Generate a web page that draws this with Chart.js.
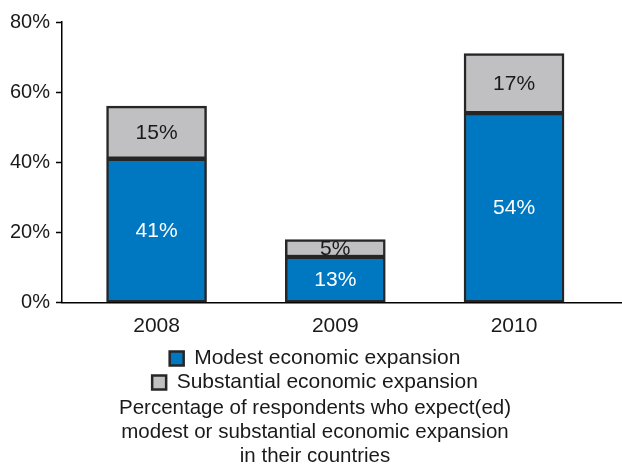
<!DOCTYPE html>
<html>
<head>
<meta charset="utf-8">
<script src="https://cdn.jsdelivr.net/npm/chart.js@4.4.1/dist/chart.umd.min.js"></script>
<style>
  html, body { margin: 0; padding: 0; background: #fff; }
  #wrap { width: 622px; height: 466px; }
</style>
</head>
<body>
<div id="wrap"><canvas id="myChart" width="622" height="466"></canvas></div>
<script>
// survey results, % of respondents
const years = [2008, 2009, 2010];
const modest = [41, 13, 54];
const substantial = [15, 5, 17];
const yTicks = [0, 20, 40, 60, 80];
const titleLines = [
    'Percentage of respondents who expect(ed)',
    'modest or substantial economic expansion',
    'in their countries'
];

const FONT = "'Liberation Sans', Arial, sans-serif";
const INK = '#1a1a1a';

// writes the % inside each bar segment
const barLabels = {
    id: 'barLabels',
    afterDatasetsDraw(chart) {
        const ctx = chart.ctx;
        ctx.save();
        ctx.font = '21px ' + FONT;
        ctx.textAlign = 'center';
        ctx.textBaseline = 'middle';
        chart.data.datasets.forEach((ds, i) => {
            const meta = chart.getDatasetMeta(i);
            meta.data.forEach((bar, j) => {
                ctx.fillStyle = ds.labelColor;
                ctx.fillText(ds.data[j] + '%', bar.x, (bar.y + bar.base) / 2 + 1);
            });
        });
        ctx.restore();
    }
};

var ctx = document.getElementById('myChart').getContext('2d');
var chart = new Chart(ctx, {
    type: 'bar',
    data: {
        labels: years,
        datasets: [{
            label: 'Modest economic expansion',
            data: modest,
            backgroundColor: '#0078c1',
            borderColor: '#262626',
            borderWidth: 2.5,
            borderSkipped: false,
            barThickness: 100,
            labelColor: '#ffffff'
        }, {
            label: 'Substantial economic expansion',
            data: substantial,
            backgroundColor: '#c0c0c2',
            borderColor: '#262626',
            borderWidth: 2.5,
            borderSkipped: false,
            barThickness: 100,
            labelColor: INK
        }]
    },
    options: {
        responsive: false,
        animation: false,
        layout: { padding: { left: 8, right: 0, top: 22, bottom: -2 } },
        scales: {
            x: {
                type: 'linear',
                stacked: true,
                offset: false,
                min: 2007.471,
                max: 2010.604,
                afterBuildTicks: (axis) => { axis.ticks = years.map(v => ({ value: v })); },
                // invisible tick marks, only used as spacing under the axis line
                grid: { display: true, drawOnChartArea: false, drawTicks: true, tickLength: 5.6, tickColor: 'rgba(0,0,0,0)' },
                border: { display: true, color: '#000', width: 1.5 },
                ticks: {
                    padding: 7.9,
                    color: INK,
                    font: { family: FONT, size: 21, lineHeight: 1 },
                    callback: (v) => String(v)
                }
            },
            y: {
                stacked: true,
                min: 0,
                max: 80,
                afterFit: (axis) => { axis.width = 54; },
                afterBuildTicks: (axis) => { axis.ticks = yTicks.map(v => ({ value: v })); },
                grid: { drawOnChartArea: false, tickLength: 6, tickColor: '#000', tickWidth: 1.5 },
                border: { display: true, color: '#000', width: 1.5 },
                ticks: {
                    padding: 6,
                    color: INK,
                    font: { family: FONT, size: 20 },
                    callback: (v) => v + '%'
                }
            }
        },
        plugins: {
            legend: {
                position: 'bottom',
                labels: {
                    boxWidth: 14,
                    boxHeight: 14,
                    padding: 3,
                    color: INK,
                    font: { family: FONT, size: 21 }
                }
            },
            title: {
                display: true,
                position: 'bottom',
                text: titleLines,
                color: INK,
                font: { family: FONT, size: 20.5, weight: 'normal', lineHeight: '24px' },
                padding: { top: -7, bottom: 0 }
            },
            tooltip: { enabled: false }
        }
    },
    plugins: [barLabels]
});
</script>
</body>
</html>
